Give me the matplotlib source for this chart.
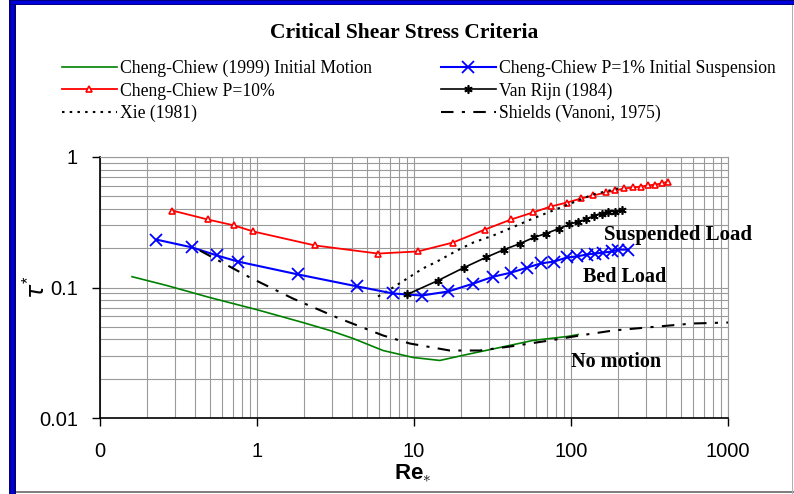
import matplotlib
matplotlib.use("Agg")
import matplotlib.pyplot as plt
from matplotlib.patches import Rectangle

# Data (Re*, tau*)
green_x = [0.16, 0.267, 0.50, 0.99, 1.96, 2.92, 4.09, 6.35, 9.86, 14.6, 21.8, 35.3, 57.3, 94.4, 111]
green_y = [0.121, 0.1035, 0.0838, 0.0678, 0.0539, 0.0468, 0.0407, 0.0329, 0.0291, 0.0276, 0.0307, 0.0347, 0.0393, 0.0421, 0.0436]

red_x = [0.288, 0.486, 0.714, 0.943, 2.34, 5.90, 10.6, 17.7, 28.3, 41.5, 57.3, 74.6, 94.4, 116, 138,
         167, 191, 218, 248, 279, 309, 343, 380, 415]
red_y = [0.389, 0.332, 0.299, 0.269, 0.210, 0.182, 0.189, 0.221, 0.278, 0.332, 0.376, 0.418, 0.448, 0.481, 0.507,
         0.535, 0.554, 0.574, 0.584, 0.594, 0.605, 0.615, 0.627, 0.649]

blue_x = [0.228, 0.385, 0.556, 0.757, 1.82, 4.34, 7.35, 11.2, 16.5, 23.8, 31.9, 41.5, 52.5, 64.4, 78.0,
          94.4, 109, 126, 142, 160, 183, 199, 231]
blue_y = [0.233, 0.203, 0.176, 0.158, 0.126, 0.102, 0.090, 0.0868, 0.0932, 0.107, 0.121, 0.130, 0.142, 0.153, 0.158,
          0.170, 0.173, 0.179, 0.182, 0.185, 0.189, 0.195, 0.195]

vr_x = [9.03, 14.2, 20.8, 28.7, 37.4, 47.3, 58.1, 69.3, 83.9, 97.1, 111, 125, 140, 157, 172, 191, 211]
vr_y = [0.0884, 0.113, 0.142, 0.170, 0.195, 0.217, 0.242, 0.259, 0.283, 0.304, 0.320, 0.332, 0.356, 0.369, 0.382, 0.382, 0.396]

xie_x = [5.90, 7.35, 9.03, 11.4, 14.0, 18.8, 23.8, 31.9, 42.1, 57.3, 76.8, 111, 138, 199]
xie_y = [0.0853, 0.100, 0.117, 0.140, 0.158, 0.192, 0.221, 0.250, 0.288, 0.338, 0.389, 0.464, 0.516, 0.574]

sh_x = [0.433, 0.902, 1.69, 3.23, 6.35, 9.43, 16.9, 26.3, 40.8, 73.5, 114, 185, 305, 598, 1000]
sh_y = [0.192, 0.1193, 0.0824, 0.0589, 0.0429, 0.0372, 0.0329, 0.0329, 0.0353, 0.0393, 0.0429, 0.0468, 0.0494, 0.053, 0.0539]

x_ticks = [0.1, 1, 10, 100, 1000]
x_ticklabels = ["0", "1", "10", "100", "1000"]
y_ticks = [0.01, 0.1, 1]
y_ticklabels = ["0.01", "0.1", "1"]

W, H = 794, 494
plt.rcParams["mathtext.fontset"] = "custom"
plt.rcParams["mathtext.bf"] = "Liberation Sans:bold"
plt.rcParams["mathtext.rm"] = "Liberation Sans"

fig = plt.figure(figsize=(W / 100, H / 100), dpi=100)
ax = fig.add_axes([100 / W, 1 - 418 / H, 628 / W, 261 / H])

ax.plot(green_x, green_y, color="#008000", lw=1.2, label="Cheng-Chiew (1999) Initial Motion")
ax.plot(red_x, red_y, color="#ff0000", lw=1.3, marker="^", ms=5, mfc="white", mec="#ff0000", mew=1.2,
        label="Cheng-Chiew P=10%")
ax.plot(xie_x, xie_y, color="black", lw=1.5, ls=(0, (1.2, 2.5)), label="Xie (1981)")
ax.plot(blue_x, blue_y, color="#0000ff", lw=1.5, marker="x", ms=8, mew=1.3,
        label="Cheng-Chiew P=1% Initial Suspension")
ax.plot(vr_x, vr_y, color="black", lw=1.2, marker=(6, 2, 0), ms=6, mew=1.2, label="Van Rijn (1984)")
ax.plot(sh_x, sh_y, color="black", lw=1.5, ls=(0, (6, 4, 1.5, 4)), label="Shields (Vanoni, 1975)")

ax.set_xscale("log")
ax.set_yscale("log")
ax.set_xlim(0.1, 1000)
ax.set_ylim(0.01, 1)
ax.set_xticks(x_ticks)
ax.set_xticklabels(x_ticklabels)
ax.set_yticks(y_ticks)
ax.set_yticklabels(y_ticklabels)
ax.minorticks_on()
ax.tick_params(which="minor", length=0)
ax.tick_params(which="major", direction="out", length=6, width=1, color="black",
               labelsize=14.5)
ax.tick_params(axis="x", pad=11)
ax.tick_params(axis="y", pad=10)
for lab in ax.get_xticklabels() + ax.get_yticklabels():
    lab.set_family("Liberation Sans")
ax.grid(True, which="both", color="#9a9a9a", lw=0.8)
ax.set_axisbelow(True)
for s in ["top", "right"]:
    ax.spines[s].set_color("#9a9a9a")
for s in ["left", "bottom"]:
    ax.spines[s].set_color("black")
    ax.spines[s].set_linewidth(1.2)

ax.set_xlabel(r"$\mathbf{Re}_{\ast}$", fontsize=16)
ax.xaxis.set_label_coords(0.498, -0.17)
ax.set_ylabel(r"$\tau^{*}$", fontsize=17)
ax.yaxis.set_label_coords(-0.079, 0.5)

serif = "Liberation Serif"
fig.text(678 / W, 1 - 235 / H, "Suspended Load", family=serif, weight="bold", fontsize=15,
         ha="center", va="center")
fig.text(625 / W, 1 - 277 / H, "Bed Load", family=serif, weight="bold", fontsize=14.5,
         ha="center", va="center")
fig.text(616 / W, 1 - 362 / H, "No motion", family=serif, weight="bold", fontsize=14.5,
         ha="center", va="center")

fig.text(404 / W, 1 - 33 / H, "Critical Shear Stress Criteria", family=serif, weight="bold",
         fontsize=15.5, ha="center", va="center")

handles, labels = ax.get_legend_handles_labels()
leg_kw = dict(loc="upper left", frameon=False, borderpad=0, borderaxespad=0, handlelength=3.1,
              handletextpad=0.2, labelspacing=0.3, prop={"family": serif, "size": 12.7})
leg1 = fig.legend(handles[:3], labels[:3], bbox_to_anchor=(62 / W, 1 - 60 / H), **leg_kw)
leg2 = fig.legend(handles[3:], labels[3:], bbox_to_anchor=(441 / W, 1 - 60 / H), **leg_kw)


def frame_rect(x, y, w, h, color):
    fig.add_artist(Rectangle((x / W, 1 - (y + h) / H), w / W, h / H, transform=fig.transFigure,
                             facecolor=color, edgecolor="none", zorder=10))


frame_rect(9, 0, 7, H, "#000080")
frame_rect(11, 0, 3, H, "#0000dd")
frame_rect(9, 0, W - 9, 5, "#000080")
frame_rect(11, 1, W - 11, 3, "#0000dd")
frame_rect(16, 491, W - 16, 2, "#808080")
frame_rect(W - 2, 5, 1, H - 5, "#b0b0b0")

fig.savefig("out.png", dpi=100)
